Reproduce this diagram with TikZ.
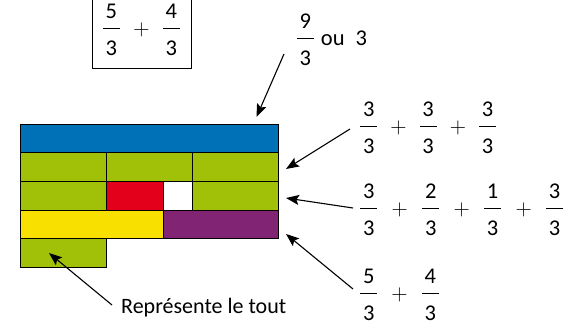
\documentclass[tikz,border=0pt]{standalone}
\usepackage{fix-cm}
\usepackage{fontspec}
\setmainfont{Carlito}
\usetikzlibrary{arrows.meta}
\definecolor{cblue}{RGB}{0,113,183}
\definecolor{cgreen}{RGB}{160,193,8}
\definecolor{cred}{RGB}{226,0,26}
\definecolor{cyellow}{RGB}{248,224,0}
\definecolor{cpurple}{RGB}{128,36,115}
\newcommand\fr[2]{$\vcenter{\offinterlineskip\halign{\hfil##\hfil\cr\hbox{#1}\cr\noalign{\kern9pt}\vrule width17pt height1pt depth0pt\cr\noalign{\kern12.5pt}\hbox{#2}\cr}}$}
\newcommand\pl[1][43]{\makebox[#1pt]{$+$}}
\tikzset{
  expr/.style={inner sep=0pt, anchor=west, font=\fontsize{22.5}{26}\selectfont},
  cell/.style={draw=black, line width=0.8pt},
  arr/.style={line width=1.1pt, -{Stealth[length=13pt,width=10pt,inset=2.5pt]}},
}
\begin{document}
\begin{tikzpicture}[x=1pt,y=-1pt]
\useasboundingbox (0,0) rectangle (563,322);
% grid
\filldraw[cell,fill=cblue] (20,124) rectangle (278.7,152.7);
\filldraw[cell,fill=cgreen] (20,152.7) rectangle (106.3,181.3);
\filldraw[cell,fill=cgreen] (106.3,152.7) rectangle (192.3,181.3);
\filldraw[cell,fill=cgreen] (192.3,152.7) rectangle (278.7,181.3);
\filldraw[cell,fill=cgreen] (20,181.3) rectangle (106.3,210);
\filldraw[cell,fill=cred] (106.3,181.3) rectangle (163.7,210);
\filldraw[cell,fill=white] (163.7,181.3) rectangle (192.3,210);
\filldraw[cell,fill=cgreen] (192.3,181.3) rectangle (278.7,210);
\filldraw[cell,fill=cyellow] (20,210) rectangle (163.7,238.7);
\filldraw[cell,fill=cpurple] (163.7,210) rectangle (278.7,238.7);
\filldraw[cell,fill=cgreen] (20,238.7) rectangle (106.3,267.3);
% top boxed expression
\node[expr] (top) at (102.7,30.05) {\fr{5}{3}\pl[43]\fr{4}{3}};
\draw[line width=0.8pt] (92.7,-2) -- (92.7,68.3) -- (191.7,68.3) -- (191.7,-2);
% expressions
\node[expr] (nine) at (296.7,40) {\fr{9}{3}\hspace{7pt}ou\hspace{11pt}3};
\node[expr] (r1) at (360,127.75) {\fr{3}{3}\pl[42.5]\fr{3}{3}\pl[42.5]\fr{3}{3}};
\node[expr] (r2) at (360,210) {\fr{3}{3}\pl[45]\fr{2}{3}\pl[45]\fr{1}{3}\pl[45]\fr{3}{3}};
\node[expr] (r3) at (360,295) {\fr{5}{3}\pl[44.7]\fr{4}{3}};
\node[inner sep=0pt, anchor=base west, font=\fontsize{22}{26}\selectfont] (lbl) at (121,313.3) {Représente le tout};
% arrow ends
\coordinate (s1) at (284,54);   \coordinate (t1) at (256.5,117);
\coordinate (s2) at (350,129);  \coordinate (t2) at (286,169);
\coordinate (s3) at (353,208);  \coordinate (t3) at (286,198);
\coordinate (s4) at (353,289);  \coordinate (t4) at (286,234);
\coordinate (s5) at (112,305);  \coordinate (t5) at (49,253);
\draw[arr] (s1) -- (t1);
\draw[arr] (s2) -- (t2);
\draw[arr] (s3) -- (t3);
\draw[arr] (s4) -- (t4);
\draw[arr] (s5) -- (t5);
\end{tikzpicture}
\end{document}
